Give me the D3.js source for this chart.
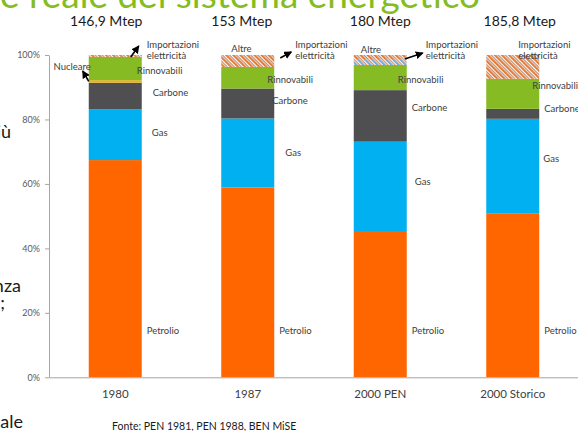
<!DOCTYPE html>
<html>
<head>
<meta charset="utf-8">
<script src="https://cdn.jsdelivr.net/npm/d3@7"></script>
<style>
  body { margin: 0; background: #fff; }
  svg { display: block; font-family: Lato, "Open Sans", sans-serif; }
</style>
</head>
<body>
<svg id="chart" width="578" height="431"></svg>
<script>
// Energy mix shares (% of primary energy demand)
const categories   = ["1980", "1987", "2000 PEN", "2000 Storico"];
const totals       = ["146,9 Mtep", "153 Mtep", "180 Mtep", "185,8 Mtep"];
const petrolio     = [67.4, 58.9, 45.1, 50.9];
const gas          = [15.8, 21.4, 28.0, 29.3];
const carbone      = [8.2, 9.3, 16.0, 3.1];
const nucleare     = [0.8, 0, 0, 0];
const rinnovabili  = [7.2, 6.7, 7.8, 9.3];
const altre        = [0, 0, 1.6, 0];
const importazioni = [0.6, 3.7, 1.5, 7.4];
const yTicks       = [0, 20, 40, 60, 80, 100];
const keys = ["Petrolio", "Gas", "Carbone", "Nucleare", "Rinnovabili", "Altre", "Importazioni"];

const rows = categories.map((c, i) => ({
  cat: c,
  Petrolio: petrolio[i], Gas: gas[i], Carbone: carbone[i], Nucleare: nucleare[i],
  Rinnovabili: rinnovabili[i], Altre: altre[i], Importazioni: importazioni[i]
}));

const svg = d3.select("#chart");
const W = 578, H = 431;
svg.append("rect").attr("width", W).attr("height", H).attr("fill", "#fff");

// Hatch patterns for the small top segments
const defs = svg.append("defs");
function hatch(id, c1, c2) {
  const p = defs.append("pattern").attr("id", id)
    .attr("patternUnits", "userSpaceOnUse").attr("width", 5).attr("height", 5)
    .attr("patternTransform", "rotate(-45)");
  p.append("rect").attr("width", 5).attr("height", 5).attr("fill", "#fff");
  p.append("rect").attr("x", 0).attr("width", 1.9).attr("height", 5).attr("fill", c1);
  p.append("rect").attr("x", 2.6).attr("width", 1.3).attr("height", 5).attr("fill", c2);
}
hatch("hatch-imp", "#e5762f", "#b98566");
hatch("hatch-altre", "#6fa9dc", "#d98a5a");

defs.append("marker").attr("id", "arrow")
  .attr("markerUnits", "userSpaceOnUse").attr("markerWidth", 8).attr("markerHeight", 8)
  .attr("refX", 7).attr("refY", 4).attr("orient", "auto")
  .append("path").attr("d", "M0,0 L8,4 L0,8 Z").attr("fill", "#000");

const colors = {
  Petrolio: "#ff6600", Gas: "#00b0f0", Carbone: "#4f4f51", Nucleare: "#e5b321",
  Rinnovabili: "#86bb24", Altre: "url(#hatch-altre)", Importazioni: "url(#hatch-imp)"
};

const x = d3.scaleBand().domain(categories).range([49, 579])
  .paddingInner(0.6).paddingOuter(0.3);
const y = d3.scaleLinear().domain([0, 100]).range([377.3, 55]);

// Slide title, mostly above the visible area; sized so its tail ends near x=480
const titleFull = "Il mix previsto e reale del sistema energetico";
const titleTail = "e reale del sistema energetico";
const probe = svg.append("text").attr("font-size", 30).text(titleTail);
const tailLen = probe.node().getComputedTextLength();
probe.remove();
const titleSize = 30 * 480 / tailLen;
svg.append("text").attr("x", 480).attr("y", 7.5).attr("text-anchor", "end")
  .attr("font-size", titleSize).attr("fill", "#84bd22")
  .text(titleFull);

// Fragments of the slide body text at the left edge
const bodyText = [["più", 11, 138], ["nza", 21, 292], [";", 5, 309], ["ale", 23, 428]];
svg.selectAll("text.body").data(bodyText).join("text")
  .attr("class", "body").attr("text-anchor", "end")
  .attr("x", d => d[1]).attr("y", d => d[2])
  .attr("font-size", 18).attr("fill", "#1a1a1a").text(d => d[0]);

// Axes
const axisColor = "#a6a6a6";
const yAxis = svg.append("g").attr("transform", "translate(49,0)")
  .call(d3.axisLeft(y).tickValues(yTicks).tickFormat(d => d + "%")
    .tickSize(4).tickSizeOuter(0).tickPadding(5));
yAxis.selectAll("path, line").attr("stroke", axisColor);
yAxis.selectAll("text").attr("font-size", 9).attr("fill", "#595959")
  .attr("font-family", "Lato, sans-serif");

// Stacked bars
const stack = d3.stack().keys(keys)(rows);
const layers = svg.append("g").selectAll("g").data(stack).join("g")
  .attr("fill", d => colors[d.key]);
layers.selectAll("rect").data(d => d.map(v => ({ v, key: d.key })))
  .join("rect")
  .attr("x", d => x(d.v.data.cat))
  .attr("width", x.bandwidth())
  .attr("y", d => y(d.v[1]))
  .attr("height", d => Math.max(0, y(d.v[0]) - y(d.v[1])));

const xAxis = svg.append("g").attr("transform", `translate(0,${y(0)})`)
  .call(d3.axisBottom(x).tickSize(0).tickSizeOuter(0).tickPadding(13));
xAxis.select("path").attr("stroke", axisColor);
xAxis.selectAll("text").attr("font-size", 11.5).attr("fill", "#404040")
  .attr("font-family", "Lato, sans-serif");

// Totals above bars
svg.selectAll("text.total").data(categories).join("text")
  .attr("class", "total").attr("text-anchor", "middle")
  .attr("x", (c, i) => x(c) + x.bandwidth() / 2 + [-9, -6, 0, 7][i])
  .attr("y", 26).attr("font-size", 14).attr("fill", "#1a1a1a")
  .text((c, i) => totals[i]);

// Segment labels: [dx from bar right edge, dy from segment middle]
const segLayout = {
  "1980":         { Gas: [10, -2.5], Carbone: [11, -3], Rinnovabili: [-5, 1.5] },
  "1987":         { Gas: [11, 0],    Carbone: [-2, -3.5], Rinnovabili: [-7, 1.3] },
  "2000 PEN":     { Gas: [8, -5],    Carbone: [5, -8],  Rinnovabili: [-9, 1.5] },
  "2000 Storico": { Gas: [4, -8],    Carbone: [5, -5],  Rinnovabili: [-7, -8] }
};
const lab = svg.append("g").attr("font-size", 9.5).attr("fill", "#404040");
stack.forEach(layer => {
  layer.forEach(v => {
    const cat = v.data.cat, L = segLayout[cat][layer.key];
    if (!L) return;
    lab.append("text")
      .attr("x", x(cat) + x.bandwidth() + L[0])
      .attr("y", y((v[0] + v[1]) / 2) + L[1])
      .attr("dominant-baseline", "central").text(layer.key);
  });
});
// Oil labels sit low, beside each bar
categories.forEach(cat => {
  lab.append("text").attr("x", x(cat) + x.bandwidth() + 5).attr("y", y(14.4))
    .attr("dominant-baseline", "central").text("Petrolio");
});

// Top annotations (offsets from bar edges and the 100% line)
const yTop = y(100);
const impLayout = [
  { cat: "1980", from: "x1", dx: 5, arrow: [-11, 2, -3, -9] },
  { cat: "1987", from: "x1", dx: 21, arrow: [6, 3, 17, -3] },
  { cat: "2000 PEN", from: "x1", dx: 19, arrow: [-2, 4, 16, -2] },
  { cat: "2000 Storico", from: "x0", dx: 32, arrow: null }
];
impLayout.forEach(d => {
  const x0 = x(d.cat), x1 = x0 + x.bandwidth();
  const bx = d.from === "x1" ? x1 : x0;
  const t = lab.append("text").attr("x", bx + d.dx).attr("y", yTop - 11)
    .attr("dominant-baseline", "central");
  t.append("tspan").attr("x", bx + d.dx).text("Importazioni");
  t.append("tspan").attr("x", bx + d.dx).attr("dy", 10.5).text("elettricità");
  if (d.arrow) {
    svg.append("line")
      .attr("x1", x1 + d.arrow[0]).attr("y1", yTop + d.arrow[1])
      .attr("x2", x1 + d.arrow[2]).attr("y2", yTop + d.arrow[3])
      .attr("stroke", "#000").attr("stroke-width", 1.6)
      .attr("marker-end", "url(#arrow)");
  }
});
[["1987", 10, -7], ["2000 PEN", 7, -6]].forEach(([cat, dx, dy]) => {
  lab.append("text").attr("x", x(cat) + dx).attr("y", yTop + dy)
    .attr("dominant-baseline", "central").text("Altre");
});

// Nuclear label with arrow
const nx0 = x("1980");
lab.append("text").attr("x", nx0 + 2).attr("y", yTop + 11)
  .attr("text-anchor", "end").attr("dominant-baseline", "central").text("Nucleare");
svg.append("line")
  .attr("x1", nx0 + 0).attr("y1", y(91.8))
  .attr("x2", nx0 - 6).attr("y2", yTop + 16)
  .attr("stroke", "#000").attr("stroke-width", 1.6)
  .attr("marker-end", "url(#arrow)");

// Source note
svg.append("text").attr("x", 112).attr("y", 430)
  .attr("font-size", 10.5).attr("fill", "#1a1a1a")
  .text("Fonte: PEN 1981, PEN 1988, BEN MiSE");
</script>
</body>
</html>
